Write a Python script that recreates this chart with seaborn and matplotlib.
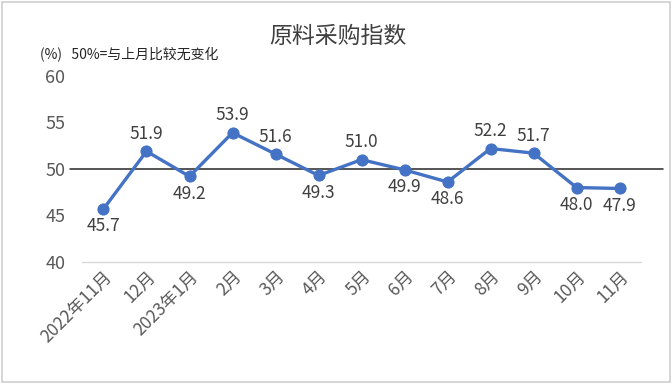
import numpy as np
import pandas as pd
import seaborn as sns
import matplotlib.pyplot as plt
from matplotlib.patches import Rectangle

months = ["2022年11月", "12月", "2023年1月", "2月", "3月", "4月", "5月",
          "6月", "7月", "8月", "9月", "10月", "11月"]
values = [45.7, 51.9, 49.2, 53.9, 51.6, 49.3, 51.0, 49.9, 48.6, 52.2, 51.7, 48.0, 47.9]
label_above = [False, True, False, True, True, False, True, False, False, True, True, False, False]

sns.set_style("white")
plt.rcParams['font.family'] = ['Noto Sans CJK SC', 'DejaVu Sans']

df = pd.DataFrame({"idx": np.arange(len(months)), "value": values})

fig = plt.figure(figsize=(6.72, 3.84), dpi=100)
ax = fig.add_axes([0.122, 0.318, 0.832, 0.484])

sns.lineplot(data=df, x="idx", y="value", ax=ax, color="#4472C4", linewidth=2.4,
             marker="o", markersize=8, markeredgecolor="#4472C4")

for i, (v, up) in enumerate(zip(values, label_above)):
    ax.text(i, v + (0.9 if up else -0.9), f"{v:.1f}", ha="center",
            va="bottom" if up else "top", fontsize=12.5, color="#404040")

ax.set_xlim(-0.5, len(months) - 0.5)
ax.set_ylim(40, 60)
ax.set_yticks([40, 45, 50, 55, 60])
ax.set_xticks(np.arange(len(months)))
ax.set_xticklabels(months, rotation=45, ha="right", rotation_mode="anchor")
ax.tick_params(axis="x", labelsize=12.5, colors="#595959", length=0, pad=4)
ax.tick_params(axis="y", labelsize=13, colors="#595959", length=0, pad=12)
ax.set_xlabel("")
ax.set_ylabel("")
for s in ["top", "right", "left"]:
    ax.spines[s].set_visible(False)
ax.spines["bottom"].set_color("#D9D9D9")
ax.spines["bottom"].set_linewidth(1)

# 50% reference line
ax.plot([-0.78, 13.0], [50, 50], color="#262626", linewidth=1.1, clip_on=False, zorder=1)

fig.text(0.503, 0.905, "原料采购指数", ha="center", va="center", fontsize=16.5, color="#404040")
fig.text(0.06, 0.857, "(%)   50%=与上月比较无变化", ha="left", va="center", fontsize=10, color="#262626")

fig.add_artist(Rectangle((0.003, 0.005), 0.994, 0.99, transform=fig.transFigure,
                         fill=False, edgecolor="#D0D0D0", linewidth=1.2))

fig.savefig("out.png", dpi=100)
